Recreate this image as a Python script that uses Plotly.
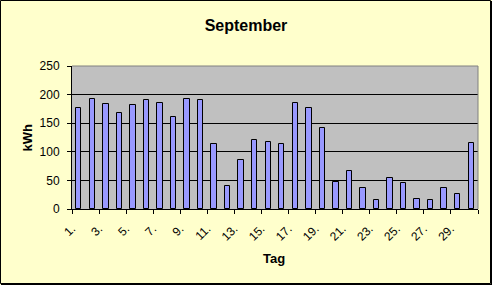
import plotly.graph_objects as go

days = list(range(1, 31))
kwh = [176, 193, 183, 167, 181, 190, 186, 160, 193, 191,
       114, 41, 86, 121, 118, 113, 185, 176, 141, 48,
       67, 37, 15, 55, 46, 18, 16, 37, 27, 116]
tick_days = list(range(1, 30, 2))
tick_labels = [f"{d}." for d in tick_days]
y_ticks = [0, 50, 100, 150, 200, 250]

W, H = 492, 285
L, R, T, B = 72, 14, 66, 76
pw, ph = W - L - R, H - T - B

fig = go.Figure(go.Bar(
    x=days, y=kwh, width=0.4,
    marker=dict(color="#9999FF", line=dict(color="black", width=1)),
))

font = "Liberation Sans, Arial, sans-serif"

fig.update_layout(
    width=W, height=H,
    margin=dict(l=L, r=R, t=T, b=B, pad=0),
    paper_bgcolor="#FFFFCC", plot_bgcolor="#C0C0C0",
    font=dict(family=font, size=12, color="black"),
    showlegend=False,
    bargap=0,
    title=dict(text="<b>September</b>", x=0.5, xanchor="center",
               xref="container", yref="container", y=1 - 25 / H, yanchor="middle",
               font=dict(size=16, family=font, color="black")),
    xaxis=dict(
        range=[0.5, 30.5], tickmode="array", tickvals=tick_days, ticktext=tick_labels,
        tickangle=-45, ticks="", showgrid=False, zeroline=False,
        showline=True, linecolor="black", linewidth=1,
        tickfont=dict(size=12), ticklabelshift=-7, ticklabelstandoff=7,
        minor=dict(tickmode="array", tickvals=[d - 0.5 for d in range(1, 32, 2)],
                   ticks="outside", ticklen=4, tickcolor="black", tickwidth=1,
                   showgrid=False),
        fixedrange=True,
    ),
    yaxis=dict(
        range=[0, 250], tickmode="array", tickvals=y_ticks,
        ticks="outside", ticklen=4, tickcolor="black",
        showgrid=True, gridcolor="black", gridwidth=1, zeroline=False,
        showline=True, linecolor="black", linewidth=1,
        tickfont=dict(size=12), ticklabelstandoff=5,
        fixedrange=True,
    ),
    annotations=[
        dict(text="<b>kWh</b>", xref="paper", yref="paper", x=(27 - L) / pw, y=0.5,
             textangle=-90, showarrow=False, xanchor="center", yanchor="middle",
             font=dict(size=13, family=font)),
        dict(text="<b>Tag</b>", xref="paper", yref="paper", x=0.5 + (274 - (L + pw / 2)) / pw,
             y=-(258.5 - (T + ph)) / ph, showarrow=False, xanchor="center", yanchor="middle",
             font=dict(size=13, family=font)),
    ],
    shapes=[
        dict(type="line", xref="paper", yref="paper", x0=0, x1=1, y0=1, y1=1,
             line=dict(color="#808080", width=1), layer="above"),
        dict(type="line", xref="paper", yref="paper", x0=1, x1=1, y0=0, y1=1,
             line=dict(color="#808080", width=1), layer="above"),
        # outer chart border
        dict(type="rect", xref="paper", yref="paper",
             x0=(0.5 - L) / pw, x1=(490.5 - L) / pw,
             y0=(T + ph - 283.5) / ph, y1=(T + ph - 0.5) / ph,
             line=dict(color="black", width=1), layer="above"),
        dict(type="line", xref="paper", yref="paper",
             x0=(491.5 - L) / pw, x1=(491.5 - L) / pw,
             y0=(T + ph - 284.5) / ph, y1=(T + ph - 1) / ph,
             line=dict(color="black", width=1), layer="above"),
        dict(type="line", xref="paper", yref="paper",
             x0=(1 - L) / pw, x1=(492 - L) / pw,
             y0=(T + ph - 284.5) / ph, y1=(T + ph - 284.5) / ph,
             line=dict(color="black", width=1), layer="above"),
    ],
)

fig.write_html("out.html")
